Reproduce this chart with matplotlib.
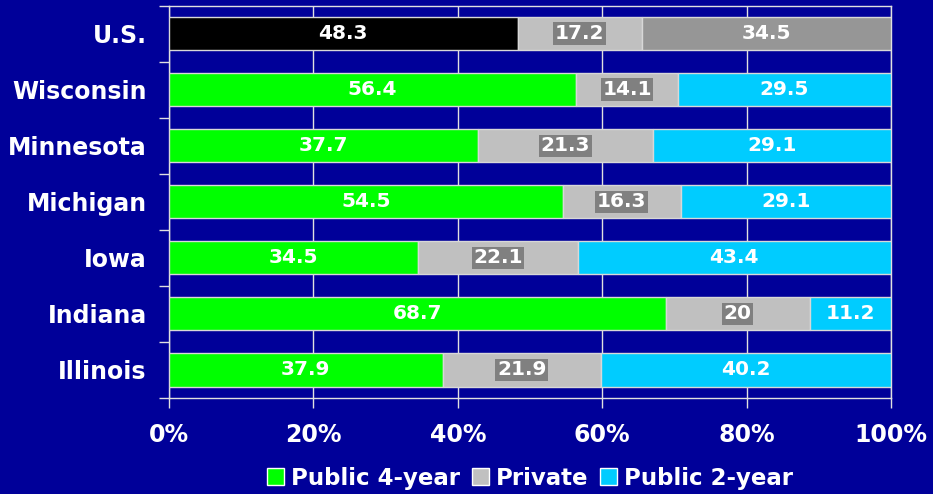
import numpy as np
import matplotlib
matplotlib.use('Agg')
import matplotlib.pyplot as plt
from matplotlib.patches import Patch

# share of enrollment by sector
states = ['U.S.', 'Wisconsin', 'Minnesota', 'Michigan', 'Iowa', 'Indiana', 'Illinois']
public4 = [48.3, 56.4, 37.7, 54.5, 34.5, 68.7, 37.9]
private = [17.2, 14.1, 21.3, 16.3, 22.1, 20, 21.9]
public2 = [34.5, 29.5, 29.1, 29.1, 43.4, 11.2, 40.2]
sectors = ['Public 4-year', 'Private', 'Public 2-year']
x_ticks = [0, 20, 40, 60, 80, 100]

bg = '#000099'
col_green = '#00ff00'
col_silver = '#c0c0c0'
col_cyan = '#00ccff'
us_cols = ['#000000', '#c0c0c0', '#969696']

fig = plt.figure(figsize=(9.33, 4.94), dpi=100, facecolor=bg)
ax = fig.add_axes([169/933., 1-398/494., (891-169)/933., (398-5.5)/494.])
ax.set_facecolor(bg)

data = np.array([public4, private, public2], dtype=float)
pct = data / data.sum(axis=0) * 100.0
ypos = np.arange(len(states))
bar_h = 0.59

left = np.zeros(len(states))
for k in range(3):
    for i in range(len(states)):
        if i == 0:
            c = us_cols[k]
        else:
            c = [col_green, col_silver, col_cyan][k]
        ax.barh(ypos[i], pct[k, i], left=left[i], height=bar_h, color=c,
                edgecolor='#d8d8d8', linewidth=1, zorder=3)
        xc = left[i] + pct[k, i] / 2.0
        txt = '%g' % data[k, i]
        if k == 1:
            ax.text(xc, ypos[i], txt, color='white', fontsize=14.5, fontweight='bold',
                    ha='center', va='center', zorder=5,
                    bbox=dict(boxstyle='square,pad=0.08', fc='#808080', ec='none'))
        else:
            ax.text(xc, ypos[i], txt, color='white', fontsize=14.5, fontweight='bold',
                    ha='center', va='center', zorder=5)
    left = left + pct[k]

ax.set_xlim(0, 100)
ax.set_ylim(len(states) - 0.5, -0.5)
ax.set_xticks(x_ticks)
ax.set_xticklabels(['%d%%' % t for t in x_ticks])
ax.set_yticks(ypos)
ax.set_yticklabels(states)
ax.set_yticks(np.arange(len(states) + 1) - 0.5, minor=True)

ax.grid(axis='x', color='#e0e0e0', linewidth=1, zorder=1)
ax.set_axisbelow(True)
for s in ax.spines.values():
    s.set_color('#e0e0e0')
    s.set_linewidth(1)

ax.tick_params(axis='y', which='major', length=0, pad=16, labelsize=17, labelcolor='white')
ax.tick_params(axis='y', which='minor', length=7, width=1, color='#e0e0e0', direction='out')
ax.tick_params(axis='x', length=7, width=1, color='#e0e0e0', direction='out', pad=11,
               labelsize=17, labelcolor='white')
for lab in ax.get_xticklabels() + ax.get_yticklabels():
    lab.set_fontweight('bold')

handles = [Patch(facecolor=col_green, edgecolor='white', label=sectors[0]),
           Patch(facecolor=col_silver, edgecolor='white', label=sectors[1]),
           Patch(facecolor=col_cyan, edgecolor='white', label=sectors[2])]
leg = fig.legend(handles=handles, loc='center', bbox_to_anchor=(530/933., 1-478/494.),
                 ncol=3, frameon=False, handlelength=0.75, handleheight=0.75,
                 handletextpad=0.3, columnspacing=0.5,
                 prop=dict(size=16.5, weight='bold'))
for t in leg.get_texts():
    t.set_color('white')

fig.savefig('out.png', dpi=100, facecolor=bg)
